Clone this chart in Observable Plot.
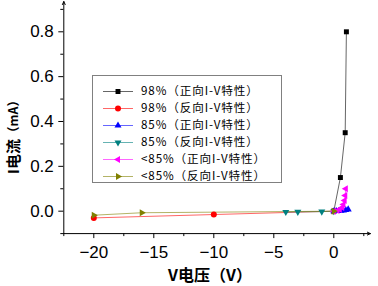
<!DOCTYPE html>
<html><head><meta charset="utf-8">
<script src="https://cdn.jsdelivr.net/npm/d3@7"></script>
<script src="https://cdn.jsdelivr.net/npm/@observablehq/plot@0.6"></script>
<style>body{margin:0;background:#fff} svg{display:block}</style>
</head><body><div id="chart"></div>
<script>
// ---- data ----
const names = ["98%（正向I-V特性）","98%（反向I-V特性）","85%（正向I-V特性）","85%（反向I-V特性）","<85%（正向I-V特性）","<85%（反向I-V特性）"];
const colors = ["#000000","#ff0000","#0000ff","#008080","#ff00ff","#808000"];
const V98f = [0, 0.55, 0.95, 1.05];
const I98f = [0, 0.15, 0.35, 0.8];
const V98r = [-20, -10, 0];
const I98r = [-0.03, -0.015, 0];
const V85f = [0, 0.2, 0.4, 0.6, 0.8, 1.0, 1.2];
const I85f = [0, 0.0005, 0.001, 0.002, 0.003, 0.005, 0.008];
const V85r = [-4, -3, -1, 0];
const I85r = [-0.004, -0.003, -0.002, 0];
const VLf = [0, 0.3, 0.5, 0.7, 0.8, 0.9, 0.95, 1.0];
const ILf = [0, 0.003, 0.008, 0.016, 0.03, 0.048, 0.07, 0.1];
const VLr = [-20, -16, 0];
const ILr = [-0.018, -0.007, 0];
const xMajor = [-20, -15, -10, -5, 0];
const xMinor = [-22.5, -17.5, -12.5, -7.5, -2.5, 2.5];
const yMajor = [0, 0.2, 0.4, 0.6, 0.8];
const yMinor = [-0.1, 0.1, 0.3, 0.5, 0.7, 0.9];
const xTitle = "V电压（V）";
const yTitleMain = "I电流", yTitleUnit = "（mA）";

// ---- symbols ----
function tri(deg){ return {draw(ctx,size){ const s=Math.sqrt(4*size/Math.sqrt(3)); const R=s/Math.sqrt(3);
  for(let k=0;k<3;k++){ const a=(deg+120*k)*Math.PI/180; const x=R*Math.cos(a), y=R*Math.sin(a); k?ctx.lineTo(x,y):ctx.moveTo(x,y);} ctx.closePath(); }}; }
const symbols = [d3.symbolSquare, d3.symbolCircle, tri(-90), tri(90), tri(180), tri(0)];
const radii = [2.8, 3, 2.6, 2.6, 2.6, 2.6];

const seriesV = [V98f, V98r, V85f, V85r, VLf, VLr];
const seriesI = [I98f, I98r, I85f, I85r, ILf, ILr];
const series = seriesV.map((V,i)=>V.map((v,j)=>({V:v, I:seriesI[i][j]})));

const marks = [];
series.forEach((d,i)=>{
  marks.push(Plot.line(d,{x:"V",y:"I",stroke:colors[i],strokeWidth:1,strokeOpacity:0.6}));
});
series.forEach((d,i)=>{
  marks.push(Plot.dot(d,{x:"V",y:"I",symbol:symbols[i],r:radii[i],fill:colors[i],stroke:"none"}));
});

const fmtX = d => d<0 ? "\u2212"+(-d) : String(d);
const chart = Plot.plot({
  width:378, height:286,
  marginLeft:63.3, marginRight:8.7, marginTop:4.4, marginBottom:52.9,
  x:{domain:[-22.5,3]},
  y:{domain:[-0.1,0.92]},
  style:{fontFamily:"'Liberation Sans', Arial, sans-serif", fontSize:"16px", background:"white", color:"black"},
  marks:[
    Plot.axisX({ticks:xMajor, tickSize:5, tickPadding:7, tickFormat:fmtX, label:null, fontSize:17}),
    Plot.axisX({ticks:xMinor, tickSize:3, tickFormat:()=>"", label:null}),
    Plot.axisY({ticks:yMajor, tickSize:5, tickPadding:5, tickFormat:d3.format(".1f"), label:null, fontSize:17}),
    Plot.axisY({ticks:yMinor, tickSize:3, tickFormat:()=>"", label:null}),
    Plot.arrow([{x1:-22.5,y1:-0.1,x2:3.05,y2:-0.1}],{x1:"x1",y1:"y1",x2:"x2",y2:"y2",stroke:"black",strokeWidth:1,headLength:5,headAngle:50}),
    Plot.arrow([{x1:-22.5,y1:-0.1,x2:-22.5,y2:0.935}],{x1:"x1",y1:"y1",x2:"x2",y2:"y2",stroke:"black",strokeWidth:1,headLength:5,headAngle:50}),
    ...marks
  ]
});
document.getElementById("chart").appendChild(chart);

// ---- titles & legend ----
const svg = d3.select(chart);
const cjk = "'Noto Sans CJK SC', 'Noto Sans', sans-serif";
svg.append("text").attr("x",210).attr("y",281).attr("text-anchor","middle")
  .attr("font-family",cjk).attr("font-weight","bold").attr("font-size",16).attr("fill","black").text(xTitle);
const yt = svg.append("text").attr("transform","translate(11.5,134) rotate(-90)").attr("text-anchor","middle")
  .attr("dominant-baseline","central")
  .attr("font-family",cjk).attr("font-weight","bold").attr("fill","black");
yt.append("tspan").attr("font-size",15).text(yTitleMain);
yt.append("tspan").attr("font-size",12.5).text(yTitleUnit);

const lg = svg.append("g").attr("text-anchor","start");
lg.append("rect").attr("x",92.5).attr("y",75.5).attr("width",189).attr("height",107)
  .attr("fill","white").attr("stroke","#808080").attr("stroke-width",1);
names.forEach((n,i)=>{
  const y = 91 + i*17;
  lg.append("line").attr("x1",103).attr("x2",133).attr("y1",y+0.5).attr("y2",y+0.5)
    .attr("stroke",colors[i]).attr("stroke-width",1).attr("stroke-opacity",0.6);
  const sz = Math.PI*radii[i]*radii[i];
  lg.append("path").attr("d",d3.symbol(symbols[i],sz)()).attr("transform",`translate(118,${y+0.5})`).attr("fill",colors[i]);
  lg.append("text").attr("x",141).attr("y",y).attr("dy","0.36em").attr("text-anchor","start").attr("font-family",cjk)
    .attr("font-size",11.6).attr("letter-spacing","0.9px").attr("fill","black").text(n);
});
</script></body></html>
